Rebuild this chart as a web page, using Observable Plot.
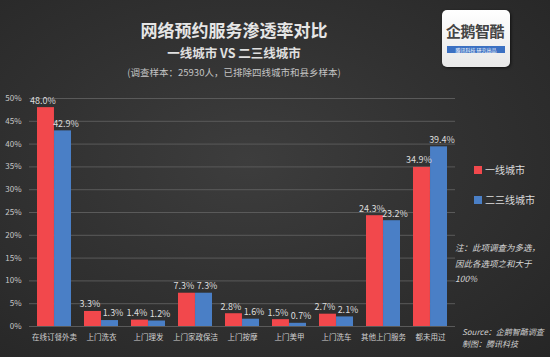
<!DOCTYPE html>
<html><head><meta charset="utf-8">
<script src="https://cdn.jsdelivr.net/npm/d3@7"></script>
<script src="https://cdn.jsdelivr.net/npm/@observablehq/plot@0.6"></script>
<style>
html,body{margin:0;padding:0;}
body{width:550px;height:357px;overflow:hidden;font-family:"Noto Sans CJK SC","Noto Sans",sans-serif;}
#wrap{position:relative;width:550px;height:357px;background:radial-gradient(ellipse at 45% 45%, #3d3d3d 0%, #313131 50%, #262626 100%);}
.abs{position:absolute;white-space:nowrap;}
#title{left:0;width:468px;text-align:center;top:17px;font-size:17px;font-weight:bold;color:#e6e6e6;}
#sub{left:0;width:468px;text-align:center;top:43px;font-size:12.5px;font-weight:bold;color:#e0e0e0;}
#sub2{left:0;width:468px;text-align:center;top:65px;font-size:9.5px;color:#c4c4c4;}
#logo{left:442px;top:10px;width:68px;height:57px;background:linear-gradient(#ffffff,#e8e8e8);border-radius:5px;box-shadow:1px 1px 3px rgba(0,0,0,0.6);}
#logo .n{position:absolute;left:4px;top:10px;font-size:15px;font-weight:bold;color:#444;letter-spacing:-0.5px;}
#logo .b{position:absolute;left:5px;top:36px;width:58px;height:7px;background:#3b70c2;color:#fff;font-size:5px;line-height:7px;text-align:center;}
.leg{font-size:10px;color:#dcdcdc;}
.sw{display:inline-block;width:8px;height:8px;margin-right:3px;vertical-align:-0px;}
.note{font-size:8.5px;color:#d8d8d8;font-style:italic;line-height:15.5px;}
.src{font-size:8px;color:#cfcfcf;font-style:italic;line-height:12px;}
svg{position:absolute;left:0;top:0;}
</style></head>
<body><div id="wrap">
<div class="abs" id="title">网络预约服务渗透率对比</div>
<div class="abs" id="sub">一线城市 VS 二三线城市</div>
<div class="abs" id="sub2">(调查样本：25930人，已排除四线城市和县乡样本)</div>
<div class="abs" id="logo"><div class="n">企鹅智酷</div><div class="b">腾讯科技 研究出品</div></div>
<div class="abs leg" style="left:474px;top:162px;"><span class="sw" style="background:#f2484c"></span>一线城市</div>
<div class="abs leg" style="left:474px;top:192px;"><span class="sw" style="background:#4a7fc6"></span>二三线城市</div>
<div class="abs note" style="left:455px;top:240px;">注：此项调查为多选，<br>因此各选项之和大于<br>100%</div>
<div class="abs src" style="left:462px;top:326px;">Source：企鹅智酷调查<br>制图：腾讯科技</div>
</div>
<script>
const categories = ["在线订餐外卖","上门洗衣","上门理发","上门家政保洁","上门按摩","上门美甲","上门洗车","其他上门服务","都未用过"];
const series = ["一线城市","二三线城市"];
const tier1 = [48.0, 3.3, 1.4, 7.3, 2.8, 1.5, 2.7, 24.3, 34.9];
const tier23 = [42.9, 1.3, 1.2, 7.3, 1.6, 0.7, 2.1, 23.2, 39.4];
const yTicks = [0,5,10,15,20,25,30,35,40,45,50];
const colors = ["#f2484c","#4a7fc6"];

const data = [];
categories.forEach((c,i)=>{
  data.push({cat:c, s:series[0], v:tier1[i]/100});
  data.push({cat:c, s:series[1], v:tier23[i]/100});
});
const W=550,H=357,ml=29,mr=95,mt=98,mb=31;
const pi=0.28, po=0.14;
const bw=(W-ml-mr)/(categories.length-pi+2*po)*(1-pi);
const half=bw/2;
const red=data.filter(d=>d.s===series[0]);
const blue=data.filter(d=>d.s===series[1]);
const chart = Plot.plot({
  width:W,height:H,marginLeft:ml,marginRight:mr,marginTop:mt,marginBottom:mb,
  style:{background:"transparent",color:"#d0d0d0",fontFamily:"'Noto Sans CJK SC',sans-serif"},
  x:{type:"band",domain:categories,paddingInner:pi,paddingOuter:po,label:null},
  y:{domain:[0,0.5],label:null},
  color:{domain:series,range:colors},
  marks:[
    Plot.ruleY(yTicks.map(t=>t/100),{stroke:"#5a5a5a",strokeWidth:1}),
    Plot.axisY({ticks:yTicks.map(t=>t/100),tickFormat:d3.format(".0%"),tickSize:0,tickPadding:8,fontSize:8,fill:"#c8c8c8",label:null}),
    Plot.axisX({tickSize:0,tickPadding:8,fontSize:7.5,fill:"#d0d0d0",label:null}),
    Plot.barY(red,{x:"cat",y:"v",fill:"s",insetRight:half}),
    Plot.barY(blue,{x:"cat",y:"v",fill:"s",insetLeft:half}),
    Plot.text(red,{x:"cat",y:"v",text:d=>d3.format(".1%")(d.v),dx:-half/2-3,dy:-7,fill:"#dcdcdc",fontSize:9,letterSpacing:-0.4}),
    Plot.text(blue,{x:"cat",y:"v",text:d=>d3.format(".1%")(d.v),dx:half/2+3,dy:-7,fill:"#dcdcdc",fontSize:9,letterSpacing:-0.4})
  ]
});
document.getElementById("wrap").prepend(chart);
</script>
</body></html>
